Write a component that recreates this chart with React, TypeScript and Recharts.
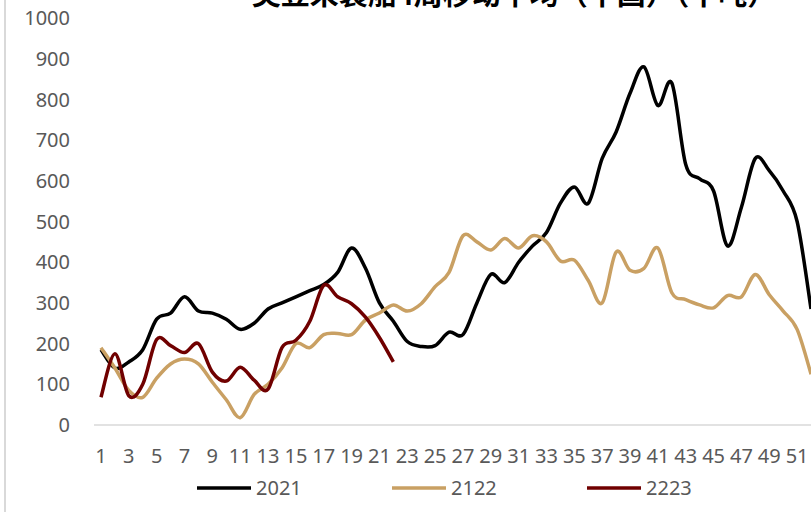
import React from 'react'
import { LineChart, Line, XAxis, YAxis, Legend } from 'recharts'

// week numbers on the category axis
const weeks = Array.from({ length: 52 }, (_, i) => i + 1)
const weekTicks = [1, 3, 5, 7, 9, 11, 13, 15, 17, 19, 21, 23, 25, 27, 29, 31, 33, 35, 37, 39, 41, 43, 45, 47, 49, 51]
const valueTicks = [0, 100, 200, 300, 400, 500, 600, 700, 800, 900, 1000]

const s2021 = [
  185, 140, 155, 185, 260, 275, 315, 280, 275, 260, 235, 250, 285, 300, 315, 330, 345, 375,
  435, 385, 300, 255, 205, 193, 195, 228, 222, 300, 370, 350, 400, 440, 473, 545, 585, 545,
  655, 720, 815, 880, 785, 840, 640, 605, 575, 440, 535, 655, 625, 575, 500, 285,
]
const s2122 = [
  190, 140, 85, 68, 115, 150, 162, 150, 105, 62, 18, 75, 100, 140, 200, 190, 222, 225, 222,
  258, 275, 295, 280, 298, 340, 375, 465, 450, 430, 458, 435, 465, 450, 403, 405, 355, 300,
  425, 380, 385, 435, 325, 308, 295, 288, 318, 315, 370, 320, 280, 235, 125,
]
const s2223 = [68, 175, 72, 100, 210, 195, 178, 200, 130, 108, 142, 110, 88, 190, 208, 255, 343, 315, 298, 265, 215, 155]

const series = [
  { key: 'y2021', name: '2021', color: '#000000' },
  { key: 'y2122', name: '2122', color: '#C9A063' },
  { key: 'y2223', name: '2223', color: '#700000' },
]

const data = weeks.map((w, i) => ({
  week: w,
  y2021: s2021[i] ?? null,
  y2122: s2122[i] ?? null,
  y2223: s2223[i] ?? null,
}))

// Excel-style smoothed line (catmull-rom, 1/6 control handles)
const excelCurve = (context: any) => {
  let pts: number[][] = []
  return {
    areaStart() {},
    areaEnd() {},
    lineStart() {
      pts = []
    },
    point(x: number, y: number) {
      pts.push([+x, +y])
    },
    lineEnd() {
      const n = pts.length
      if (!n) return
      context.moveTo(pts[0][0], pts[0][1])
      for (let i = 0; i < n - 1; i++) {
        const p0 = pts[i - 1] || pts[i]
        const p1 = pts[i]
        const p2 = pts[i + 1]
        const p3 = pts[i + 2] || p2
        context.bezierCurveTo(
          p1[0] + (p2[0] - p0[0]) / 6,
          p1[1] + (p2[1] - p0[1]) / 6,
          p2[0] - (p3[0] - p1[0]) / 6,
          p2[1] - (p3[1] - p1[1]) / 6,
          p2[0],
          p2[1]
        )
      }
    },
  }
}

const font = '"Noto Sans", sans-serif'
const tickStyle = { fill: '#595959', fontSize: 20, fontFamily: font }

const renderLegend = () => (
  <div style={{ display: 'flex', height: 24, alignItems: 'center' }}>
    {series.map((s) => (
      <div key={s.key} style={{ width: 195, display: 'flex', alignItems: 'center' }}>
        <svg width={54} height={4}>
          <line x1={0} y1={2} x2={54} y2={2} stroke={s.color} strokeWidth={3.5} />
        </svg>
        <span style={{ marginLeft: 5, color: '#595959', fontSize: 20, fontFamily: font, lineHeight: '24px' }}>
          {s.name}
        </span>
      </div>
    ))}
  </div>
)

export default function App() {
  return (
    <div
      style={{
        position: 'fixed',
        left: 0,
        top: 0,
        width: 811,
        height: 512,
        overflow: 'hidden',
        background: '#fff',
      }}
    >
      <div style={{ position: 'absolute', left: 4, top: 0, width: 2, height: 512, background: '#d9d9d9' }} />
      <LineChart
        width={840}
        height={512}
        data={data}
        margin={{ top: 18, right: 22, left: 0, bottom: 12 }}
      >
        {/* title sits above the visible area, as in the source picture */}
        <text
          x={514}
          y={5}
          textAnchor="middle"
          style={{ fontFamily: '"Noto Sans CJK SC", sans-serif', fontWeight: 700, fontSize: 29, fill: '#000' }}
        >
          美豆未装船4周移动平均（中国）（千吨）
        </text>
        <XAxis
          dataKey="week"
          type="number"
          domain={[0.5, 52.5]}
          ticks={weekTicks}
          interval={0}
          tick={tickStyle}
          tickLine={false}
          tickSize={0}
          tickMargin={24}
          height={51}
          axisLine={{ stroke: '#d9d9d9', strokeWidth: 1.5 }}
          allowDataOverflow
        />
        <YAxis
          domain={[0, 1000]}
          ticks={valueTicks}
          interval={0}
          tick={tickStyle}
          tickLine={false}
          tickSize={0}
          tickMargin={24}
          axisLine={false}
          width={94}
        />
        <Legend content={renderLegend} wrapperStyle={{ left: 197, width: 600, height: 24 }} />
        {series.map((s) => (
          <Line
            key={s.key}
            dataKey={s.key}
            name={s.name}
            type={excelCurve as any}
            stroke={s.color}
            strokeWidth={3.5}
            dot={false}
            activeDot={false}
            isAnimationActive={false}
          />
        ))}
      </LineChart>
    </div>
  )
}
